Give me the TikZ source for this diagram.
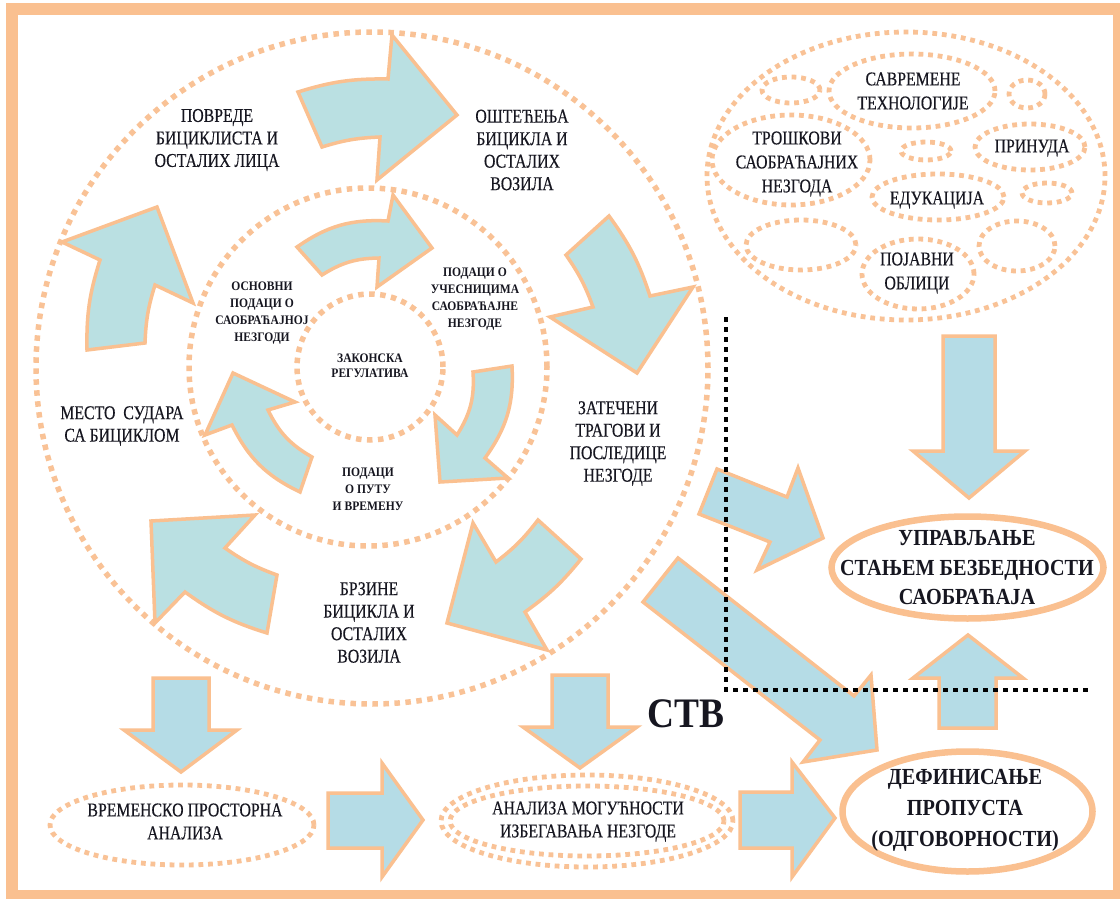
\documentclass[tikz,border=0pt]{standalone}
\usepackage{fontspec}
\setmainfont{Liberation Serif}
\newfontfamily\lab{Liberation Serif}[FakeStretch=0.81,FakeBold=0.3]
\newfontfamily\labb{Liberation Serif}[FakeStretch=0.88]
\newfontfamily\sml{Liberation Serif}[FakeStretch=0.89]
\newfontfamily\stvf{Liberation Serif}[FakeStretch=0.89]
\definecolor{frameorange}{RGB}{250,192,144}
\definecolor{dotorange}{RGB}{249,194,150}
\definecolor{ringfill}{RGB}{186,224,226}
\definecolor{arrowfill}{RGB}{181,220,230}
\definecolor{txt}{RGB}{22,22,32}
\tikzset{
  dots/.style={draw=dotorange, line width=5.5pt, dash pattern=on 5.5pt off 5.5pt},
  sdots/.style={draw=dotorange, line width=4.8pt, dash pattern=on 4.8pt off 4.8pt},
  ringarrow/.style={fill=ringfill, draw=frameorange, line width=3.5pt},
  blockarrow/.style={fill=arrowfill, draw=frameorange, line width=3.5pt},
  bdots/.style={draw=black, line width=4.5pt, dash pattern=on 4.5pt off 5.5pt},
  solidell/.style={draw=frameorange, line width=6.5pt},
  lbl/.style={align=center, text=txt, inner sep=0pt, font=\lab\fontsize{19.5}{22.5}\selectfont},
  clbl/.style={align=center, text=txt, inner sep=0pt, font=\lab\fontsize{19.5}{24}\selectfont},
  slbl/.style={align=center, text=txt, inner sep=0pt, font=\sml\bfseries\fontsize{13}{17}\selectfont},
  blbl/.style={align=center, text=txt, inner sep=0pt, font=\labb\bfseries\fontsize{23}{29.5}\selectfont},
}
\begin{document}
\begin{tikzpicture}[x=1pt,y=-1pt]
\useasboundingbox (0,0) rectangle (1120,899);
\fill[white] (0,0) rectangle (1120,899);
\draw[frameorange, line width=12pt] (12,9) rectangle (1119,896);

% dotted circles
\draw[dots] (372,368) circle[radius=336pt];
\draw[dots] (368,367) circle[radius=179pt];
\draw[dots] (370,367) circle[radius=73pt];

% top-right cluster
\draw[sdots] (906,176) ellipse[x radius=199pt, y radius=144pt];
\draw[sdots] (912,91) ellipse[x radius=83pt, y radius=37pt];
\draw[sdots] (791,90) ellipse[x radius=29pt, y radius=13pt];
\draw[sdots] (1027,94) ellipse[x radius=18pt, y radius=14pt];
\draw[sdots] (791,160) ellipse[x radius=79pt, y radius=45pt];
\draw[sdots] (926,151) ellipse[x radius=25pt, y radius=9pt];
\draw[sdots] (1030,147) ellipse[x radius=55pt, y radius=23pt];
\draw[sdots] (938,197) ellipse[x radius=66pt, y radius=23pt];
\draw[sdots] (1047,193) ellipse[x radius=25pt, y radius=10pt];
\draw[sdots] (801,245) ellipse[x radius=55pt, y radius=25pt];
\draw[sdots] (918,274) ellipse[x radius=56pt, y radius=35pt];
\draw[sdots] (1017,246) ellipse[x radius=38pt, y radius=25pt];

% bottom dotted ellipses
\draw[sdots] (182,825) ellipse[x radius=132pt, y radius=40pt];
\draw[sdots] (587,821) ellipse[x radius=146pt, y radius=46pt];
\draw[sdots] (587,821) ellipse[x radius=137pt, y radius=35pt];

% solid ellipses
\draw[solidell] (967.5,567.5) ellipse[x radius=136pt, y radius=51pt];
\draw[solidell] (967.5,811.5) ellipse[x radius=125pt, y radius=60pt];

% outer ring arrows
\draw[ringarrow] (298,92) to[bend left=9] (388,79) -- (392,35) -- (457,115) -- (377,180) -- (380,137) to[bend right=7.4] (322,147) -- cycle;
\draw[ringarrow] (609,216) to[bend left=9] (650,296) -- (693,287) -- (637,373) -- (550,317) -- (593,307) to[bend right=7.4] (566,255) -- cycle;
\draw[ringarrow] (447,623) -- (473,523) -- (496,562) to[bend right=7.4] (538,520) -- (581,559) to[bend left=7.6] (525,612) -- (547,650) -- cycle;
\draw[ringarrow] (277,575) to[bend left=7.4] (225,548) -- (255,515) -- (151,521) -- (155,623) -- (185,592) to[bend right=9.3] (267,633) -- cycle;
\draw[ringarrow] (145,343) to[bend left=7.5] (155,285) -- (193,303) -- (157,207) -- (62,242) -- (100,260) to[bend right=9.3] (87,350) -- cycle;

% inner ring arrows
\draw[ringarrow] (297,247) to[bend left=19] (388,221) -- (393,195) -- (432,248) -- (377,287) -- (379,258) to[bend right=15.6] (322,275) -- cycle;
\draw[ringarrow] (512,366) to[bend left=19.4] (485,458) -- (508,478) -- (440,482) -- (435,415) -- (457,435) to[bend right=18] (473,372) -- cycle;
\draw[ringarrow] (233,373) -- (295,402) -- (268,410) to[bend right=17] (312,457) -- (300,492) to[bend left=19] (232,425) -- (205,435) -- cycle;

% block arrows
\draw[blockarrow] (153,678) -- (209,678) -- (209,730) -- (237,730) -- (181,772) -- (124,730) -- (153,730) -- cycle;
\draw[blockarrow] (552,675) -- (608,675) -- (608,727) -- (637,727) -- (580,768) -- (523,727) -- (552,727) -- cycle;
\draw[blockarrow] (328,793) -- (382,793) -- (382,763) -- (423,820) -- (382,877) -- (382,848) -- (328,848) -- cycle;
\draw[blockarrow] (740,792) -- (792,792) -- (792,762) -- (835,818) -- (792,877) -- (792,848) -- (740,848) -- cycle;
\draw[blockarrow] (943,336) -- (995,336) -- (995,451) -- (1025,451) -- (969,498) -- (913,451) -- (943,451) -- cycle;
\draw[blockarrow] (939,728) -- (939,678) -- (913,678) -- (968,635) -- (1023,678) -- (996,678) -- (996,728) -- cycle;
\draw[blockarrow] (678,558) -- (854,696) -- (871,675) -- (877,750) -- (803,762) -- (820,740) -- (643,602) -- cycle;
\draw[blockarrow] (717,469) -- (787,497) -- (798,468) -- (823,538) -- (757,570) -- (770,542) -- (699,514) -- cycle;

% labels
\node[lbl] (povrede) at (217,140) {ПОВРЕДЕ\\БИЦИКЛИСТА И\\ОСТАЛИХ ЛИЦА};
\node[lbl] (ostecenja) at (522,150) {ОШТЕЋЕЊА\\БИЦИКЛА И\\ОСТАЛИХ\\ВОЗИЛА};
\node[lbl] (zateceni) at (618,443.5) {ЗАТЕЧЕНИ\\ТРАГОВИ И\\ПОСЛЕДИЦЕ\\НЕЗГОДЕ};
\node[lbl] (brzine) at (369,622.5) {БРЗИНЕ\\БИЦИКЛА И\\ОСТАЛИХ\\ВОЗИЛА};
\node[lbl] (mesto) at (122,426) {МЕСТО~ СУДАРА\\СА БИЦИКЛОМ};
\node[slbl] (osnovni) at (262,313.5) {ОСНОВНИ\\ПОДАЦИ О\\САОБРАЋАЈНОЈ\\НЕЗГОДИ};
\node[slbl] (ucesnici) at (475,299.5) {ПОДАЦИ О\\УЧЕСНИЦИМА\\САОБРАЋАЈНЕ\\НЕЗГОДЕ};
\node[slbl, font=\sml\bfseries\fontsize{13}{15}\selectfont] (zakonska) at (370,365.5) {ЗАКОНСКА\\РЕГУЛАТИВА};
\node[slbl] (putu) at (368,489) {ПОДАЦИ\\О ПУТУ\\И ВРЕМЕНУ};
\node[clbl, font=\lab\fontsize{19.5}{23}\selectfont] (vremensko) at (185,821.5) {ВРЕМЕНСКО ПРОСТОРНА\\АНАЛИЗА};
\node[clbl, font=\lab\fontsize{19.5}{23}\selectfont] (analiza) at (588,821.5) {АНАЛИЗА МОГУЋНОСТИ\\ИЗБЕГАВАЊА НЕЗГОДЕ};
\node[blbl, font=\labb\bfseries\fontsize{23}{31}\selectfont] (definisanje) at (965,810) {ДЕФИНИСАЊЕ\\ПРОПУСТА\\(ОДГОВОРНОСТИ)};
\node[blbl] (upravljanje) at (967,568) {УПРАВЉАЊЕ\\СТАЊЕМ БЕЗБЕДНОСТИ\\САОБРАЋАЈА};
\node[text=txt, inner sep=0pt, font=\stvf\bfseries\fontsize{42}{42}\selectfont] (stv) at (686,714) {СТВ};
\node[clbl] (savremene) at (913,91) {САВРЕМЕНЕ\\ТЕХНОЛОГИЈЕ};
\node[clbl] (troskovi) at (797,164) {ТРОШКОВИ\\САОБРАЋАЈНИХ\\НЕЗГОДА};
\node[clbl] (prinuda) at (1032,148) {ПРИНУДА};
\node[clbl] (edukacija) at (937,200) {ЕДУКАЦИЈА};
\node[clbl] (pojavni) at (917,273) {ПОЈАВНИ\\ОБЛИЦИ};

% black dotted boundary
\coordinate (b1) at (726,317);
\coordinate (b2) at (726,690);
\coordinate (b3) at (1092,690);
\draw[bdots] (b1) -- (b2) -- (b3);
\end{tikzpicture}
\end{document}
